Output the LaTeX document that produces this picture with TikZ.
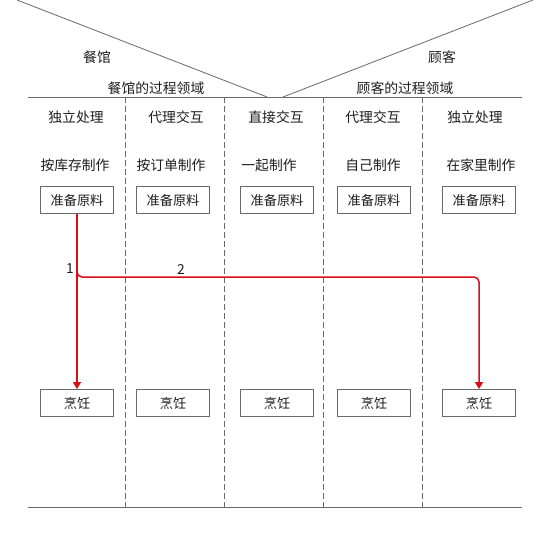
\documentclass[tikz,border=0pt]{standalone}
\usepackage{fontspec}
\setmainfont{Noto Sans CJK SC}
\usetikzlibrary{arrows.meta}
\definecolor{flowred}{RGB}{215,15,25}
\definecolor{edgegray}{RGB}{105,105,105}
\definecolor{textgray}{RGB}{30,30,30}

\begin{document}
\begin{tikzpicture}[x=1pt,y=-1pt,>={Triangle[length=7pt,width=8pt]},
  task/.style={draw=edgegray,line width=0.9pt,minimum width=73pt,minimum height=27pt,inner sep=0pt,font=\fontsize{13.2}{15}\selectfont,text=textgray},
  lane_txt/.style={font=\fontsize{13.8}{16}\selectfont,text=textgray,inner sep=0pt},
  lane/.style={draw=edgegray,line width=0.8pt,dash pattern=on 6pt off 3pt},
  rule/.style={draw=edgegray,line width=0.8pt},
  flow/.style={draw=flowred,line width=1.5pt,->}]
\fill[white] (0,0) rectangle (545,537);
\useasboundingbox (0,0) rectangle (545,537);
% frame lines
\coordinate (top_l) at (28,97);
\coordinate (top_r) at (522,97);
\coordinate (bot_l) at (28,507);
\coordinate (bot_r) at (522,507);
\coordinate (tip_l) at (267,97);
\coordinate (tip_r) at (283,97);
\coordinate (far_l) at (17,0);
\coordinate (far_r) at (533,0);
\draw[rule] (top_l)--(top_r);
\draw[rule] (bot_l)--(bot_r);
\draw[rule] (far_l)--(tip_l);
\draw[rule] (tip_r)--(far_r);
\draw[lane] (125,97)--(125,507);
\draw[lane] (224,97)--(224,507);
\draw[lane] (323,97)--(323,507);
\draw[lane] (422,97)--(422,507);
% domain labels
\node[lane_txt] (side_a) at (97,57) {餐馆};
\node[lane_txt] (side_b) at (442,57) {顾客};
\node[lane_txt] (dom_a) at (156,88) {餐馆的过程领域};
\node[lane_txt] (dom_b) at (405,88) {顾客的过程领域};
% column heads
\node[lane_txt] (head_a) at (76,117) {独立处理};
\node[lane_txt] (head_b) at (176,117) {代理交互};
\node[lane_txt] (head_c) at (276,117) {直接交互};
\node[lane_txt] (head_d) at (373,117) {代理交互};
\node[lane_txt] (head_e) at (475,117) {独立处理};
\node[lane_txt] (mode_a) at (75,165) {按库存制作};
\node[lane_txt] (mode_b) at (171,165) {按订单制作};
\node[lane_txt] (mode_c) at (269,165) {一起制作};
\node[lane_txt] (mode_d) at (373,165) {自己制作};
\node[lane_txt] (mode_e) at (481,165) {在家里制作};
% steps
\node[task] (prep_a) at (77,200) {准备原料};
\node[task] (prep_b) at (173,200) {准备原料};
\node[task] (prep_c) at (277,200) {准备原料};
\node[task] (prep_d) at (374,200) {准备原料};
\node[task] (prep_e) at (479,200) {准备原料};
\node[task] (cook_a) at (77,403) {烹饪};
\node[task] (cook_b) at (173,403) {烹饪};
\node[task] (cook_c) at (277,403) {烹饪};
\node[task] (cook_d) at (374,403) {烹饪};
\node[task] (cook_e) at (479,403) {烹饪};
% flows
\coordinate (split) at (77,277);
\draw[flow] (prep_a.south)--(cook_a.north);
\draw[flow,rounded corners=5pt] ([yshift=5pt]split)--(split)-|(cook_e.north);
\node[lane_txt] (num_a) at (70,269) {1};
\node[lane_txt] (num_b) at (181,269) {2};
\end{tikzpicture}
\end{document}
